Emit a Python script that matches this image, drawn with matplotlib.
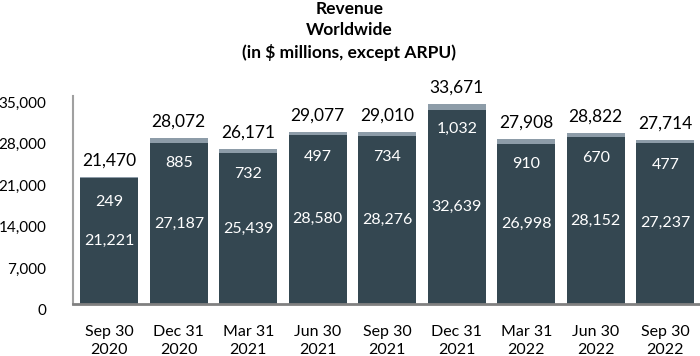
import matplotlib.pyplot as plt
from matplotlib.transforms import ScaledTranslation

plt.rcParams['font.family'] = ['Lato', 'DejaVu Sans']

quarters = ["Sep 30\n2020", "Dec 31\n2020", "Mar 31\n2021", "Jun 30\n2021", "Sep 30\n2021",
            "Dec 31\n2021", "Mar 31\n2022", "Jun 30\n2022", "Sep 30\n2022"]
base = [21221, 27187, 25439, 28580, 28276, 32639, 26998, 28152, 27237]
top = [249, 885, 732, 497, 734, 1032, 910, 670, 477]
totals = [21470, 28072, 26171, 29077, 29010, 33671, 27908, 28822, 27714]
yticks = [0, 7000, 14000, 21000, 28000, 35000]

dark = '#344751'
light = '#8d9ca8'

fig = plt.figure(figsize=(7, 3.56), dpi=100)
ax = fig.add_axes([0.104, 0.146, 0.896, 0.583])

x = range(len(quarters))
ax.bar(x, base, width=0.83, color=dark)
ax.bar(x, top, bottom=base, width=0.83, color=light)

for i in x:
    ax.annotate(f"{totals[i]:,}", (i, totals[i]), xytext=(0, 6), textcoords='offset points',
                ha='center', va='bottom', fontsize=12.5, color='black')
    ax.annotate(f"{top[i]:,}", (i, totals[i]), xytext=(0, -18), textcoords='offset points',
                ha='center', va='center', fontsize=11.5, color='white')
    ax.text(i, base[i] / 2, f"{base[i]:,}", ha='center', va='center',
            fontsize=11.5, color='white')

ax.set_xlim(-0.525, 8.5)
ax.set_ylim(0, 35000)
ax.set_yticks(yticks)
ax.set_yticklabels([f"{v:,}" for v in yticks])
ax.set_xticks(list(x))
ax.set_xticklabels(quarters, linespacing=1.35)
ax.tick_params(axis='y', length=0, pad=19, labelsize=11)
ax.tick_params(axis='x', length=0, pad=15, labelsize=11.5)
for lab in ax.get_yticklabels():
    lab.set_transform(lab.get_transform() + ScaledTranslation(0, -4 / 72, fig.dpi_scale_trans))

for s in ['top', 'right']:
    ax.spines[s].set_visible(False)
ax.spines['left'].set_color('#a0a0a0')
ax.spines['bottom'].set_color('#808080')
ax.spines['left'].set_linewidth(1.5)
ax.spines['bottom'].set_linewidth(2)

fig.text(0.499, 0.997, "Revenue\nWorldwide\n(in $ millions, except ARPU)", ha='center', va='top',
         fontsize=12.5, fontweight='bold', linespacing=1.4)

fig.savefig('out.png', dpi=100)
